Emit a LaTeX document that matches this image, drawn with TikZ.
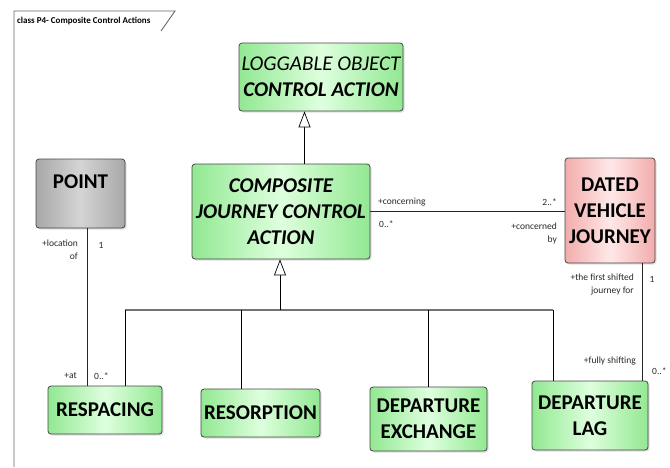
\documentclass[tikz,border=0pt]{standalone}
\usepackage{fontspec}
\setmainfont{Carlito}
\usetikzlibrary{arrows.meta,shadows,calc}
\definecolor{gA}{RGB}{146,232,146}
\definecolor{gB}{RGB}{222,255,222}
\definecolor{pA}{RGB}{242,172,172}
\definecolor{pB}{RGB}{255,232,232}
\definecolor{kA}{RGB}{168,168,168}
\definecolor{kB}{RGB}{212,212,212}
\definecolor{bord}{RGB}{70,70,70}
\definecolor{lbl}{RGB}{40,40,40}
\tikzset{
  umlbox/.style={draw=bord, line width=0.8pt, rounded corners=3pt, inner sep=0pt,
    align=center, font=\fontsize{21}{26}\selectfont\bfseries,
    drop shadow={shadow xshift=1.5pt, shadow yshift=-1.5pt, opacity=0.25}},
  greenbox/.style={umlbox, shade, shading=axis, shading angle=90, left color=gA, right color=gA, middle color=gB},
  pinkbox/.style={umlbox, shade, shading=axis, left color=pA, right color=pA, middle color=pB},
  graybox/.style={umlbox, shade, shading=axis, left color=kA, right color=kA, middle color=kB},
  lab/.style={font=\fontsize{9.5}{13}\selectfont, text=lbl, inner sep=0pt},
  assoc/.style={draw=black!85, line width=0.7pt},
  genvert/.style={draw=black, line width=0.7pt},
  genhoriz/.style={draw=black!55, line width=1.2pt},
  gentip/.style={genvert, -{Triangle[open, width=12pt, length=16pt, fill=white]}},
  framel/.style={draw=black!60, line width=0.9pt}
}
\begin{document}
\begin{tikzpicture}[x=1pt,y=-1pt]
\useasboundingbox (0,0) rectangle (670,467);
% frame
\draw[framel] (14,467) -- (14,11) -- (175,11) -- (161,31);
\node[anchor=west, inner sep=0pt, font=\fontsize{9}{11}\selectfont\bfseries] (title) at (17,21.5) {class P4- Composite Control Actions};

% nodes
\node[greenbox, minimum width=164pt, minimum height=68pt] (lca) at (321,77)
  {{\mdseries\itshape LOGGABLE OBJECT}\\ {\itshape CONTROL ACTION}};
\node[greenbox, minimum width=178pt, minimum height=95pt] (comp) at (281,211.5)
  {\itshape COMPOSITE\\ \itshape JOURNEY CONTROL\\ \itshape ACTION};
\node[pinkbox, minimum width=90pt, minimum height=105pt] (dvj) at (610,210.5)
  {DATED\\ VEHICLE\\ JOURNEY};
\node[graybox, minimum width=89pt, minimum height=69pt, text height=29.5pt, text depth=39.5pt] (point) at (80.5,193.5)
  {POINT};
\node[greenbox, minimum width=114pt, minimum height=48pt] (resp) at (105,410) {RESPACING};
\node[greenbox, minimum width=119pt, minimum height=48pt] (reso) at (260.5,413) {RESORPTION};
\node[greenbox, minimum width=117pt, minimum height=64pt] (dex) at (428.5,419) {DEPARTURE\\ EXCHANGE};
\node[greenbox, minimum width=116pt, minimum height=69pt] (dlag) at (590,415.5) {DEPARTURE\\ LAG};

% generalization LCA <- COMP
\coordinate (cu) at ([xshift=23.5pt]comp.north);
\draw[gentip] (cu) -- (cu |- lca.south);

% generalization tree
\coordinate (j) at (280,310);
\coordinate (b1) at (125,310);
\coordinate (b2) at (241,310);
\coordinate (b3) at (428,310);
\coordinate (b4) at (553,310);
\draw[genhoriz] (b1) -- (b4);
\draw[gentip] (j) -- (j |- comp.south);
\draw[genvert] (b1) -- (b1 |- resp.north);
\draw[genvert] (b2) -- (b2 |- reso.north);
\draw[genvert] (b3) -- (b3 |- dex.north);
\draw[genvert] (b4) -- (b4 |- dlag.north);

% association COMP -- DVJ
\draw[assoc] (comp.east) -- (comp.east -| dvj.west);
\node[lab, anchor=west] (l1) at (378,202) {+concerning};
\node[lab, anchor=west] (l2) at (379,224) {0..*};
\node[lab, anchor=east] (l3) at (557,202) {2..*};
\node[lab, anchor=east, align=right] (l4) at (557,233.5) {+concerned\\by};

% association POINT -- RESPACING
\coordinate (pp) at ([xshift=6.5pt]point.south);
\draw[assoc] (pp) -- (pp |- resp.north);
\node[lab, anchor=east, align=right] (l5) at (78,249.5) {+location\\of};
\node[lab] (l6) at (101,245) {1};
\node[lab, anchor=east] (l7) at (77,376) {+at};
\node[lab, anchor=west] (l8) at (94,376) {0..*};

% association DVJ -- DEPARTURE LAG
\coordinate (dv) at ([xshift=32pt]dvj.south);
\draw[assoc] (dv) -- (dv |- dlag.north);
\node[lab, anchor=east, align=right] (l9) at (634,284.5) {+the first shifted\\journey for};
\node[lab] (l10) at (652,279) {1};
\node[lab, anchor=east] (l11) at (636,361) {+fully shifting};
\node[lab, anchor=west] (l12) at (652,371) {0..*};
\end{tikzpicture}
\end{document}
